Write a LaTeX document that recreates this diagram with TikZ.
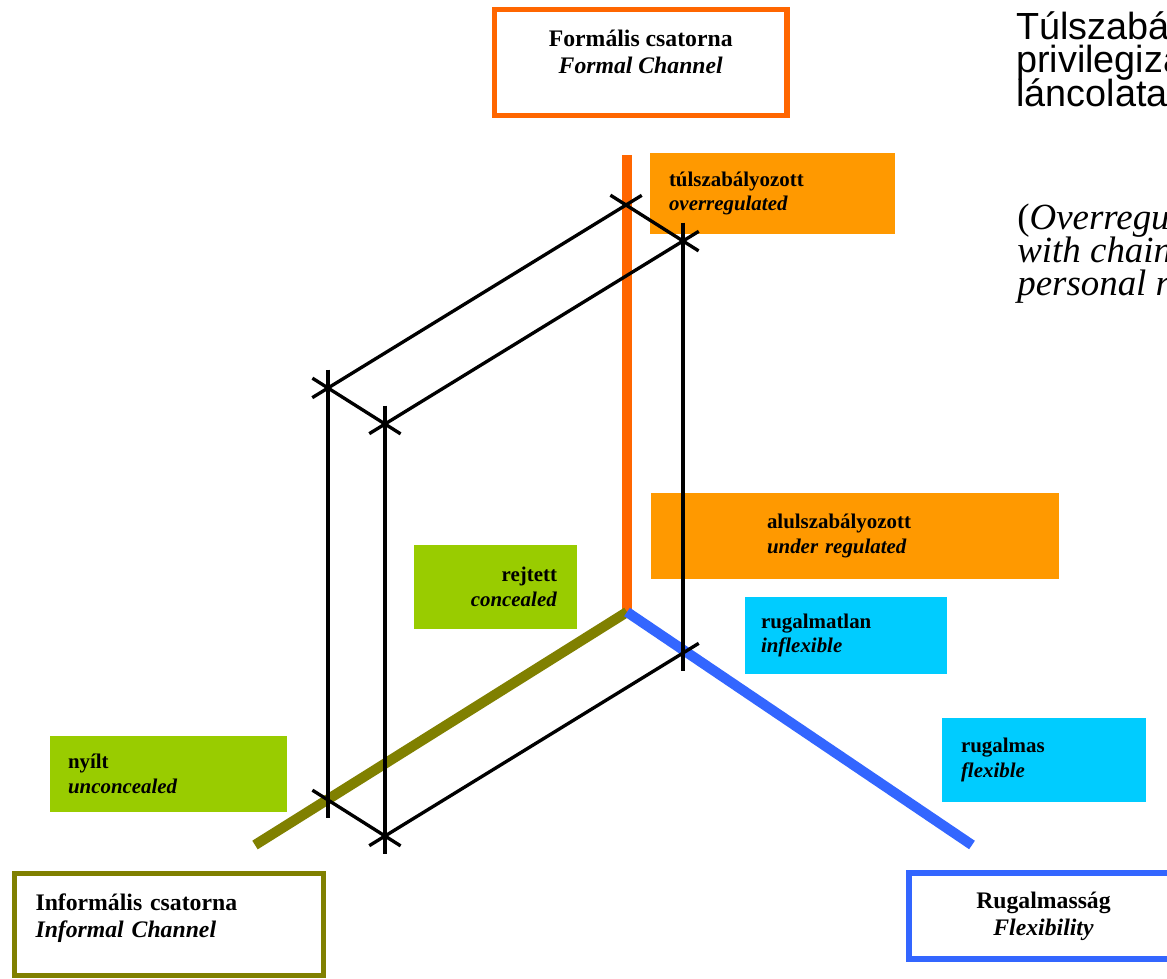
\documentclass[tikz,border=0pt]{standalone}
\usepackage{fontspec}
\setmainfont{Liberation Serif}
\newfontfamily\notefont{Liberation Sans}
\usepackage{tikz}
\usetikzlibrary{positioning,calc}
\usepackage{xcolor}

\definecolor{formalorange}{HTML}{FF6600}
\definecolor{regorange}{HTML}{FF9900}
\definecolor{informalolive}{HTML}{808000}
\definecolor{flexblue}{HTML}{3366FF}
\definecolor{concealgreen}{HTML}{99CC00}
\definecolor{flexcyan}{HTML}{00CCFF}

\begin{document}
\begin{tikzpicture}[x=0.02cm, y=-0.02cm,
    titlebox/.style={draw, line width=2.9pt, fill=white, inner sep=0pt,
        font=\fontsize{13.5}{15.3}\selectfont},
    catbox/.style={inner sep=0pt, font=\fontsize{11.9}{14}\selectfont},
    channel/.style={line width=5.8pt},
    slab/.style={line width=1.9pt, shorten <=-10.5pt, shorten >=-10.5pt}]
    \useasboundingbox (0,0) rectangle (1167,978);
    \clip (0,0) rectangle (1167,978);

    % Axis titles
    \node[titlebox, draw=formalorange, minimum width=5.85cm, minimum height=2.12cm,
        align=center, text depth=12pt] (formal) at (640.75,62.5)
        {\textbf{Formális csatorna}\\ \textbf{\textit{Formal Channel}}};
    \node[titlebox, draw=informalolive, minimum width=6.19cm, minimum height=2.04cm,
        text width=5.34cm, align=left, text depth=25.5pt] (informal) at (169,924.5)
        {\textbf{Informális csatorna}\\ \textbf{\textit{Informal Channel}}};
    \node[titlebox, draw=flexblue, minimum width=5.38cm, minimum height=1.72cm,
        align=center] (flexibility) at (1043.5,916)
        {\textbf{Rugalmasság}\\ \textbf{\textit{Flexibility}}};

    % Categories
    \node[catbox, fill=regorange, minimum width=4.9cm, minimum height=1.62cm,
        text width=4.14cm, align=left] (overreg) at (772.5,193.5)
        {\textbf{túlszabályozott}\\ \textbf{\textit{overregulated}}};
    \node[catbox, fill=regorange, minimum width=8.16cm, minimum height=1.72cm,
        text width=3.52cm, align=left] (underreg) at (855,536)
        {\textbf{alulszabályozott}\\ \textbf{\textit{under regulated}}};
    \node[catbox, fill=concealgreen, minimum width=3.26cm, minimum height=1.68cm,
        text width=2.46cm, align=right] (concealed) at (495.5,587)
        {\textbf{rejtett}\\ \textbf{\textit{concealed}}};
    \node[catbox, fill=concealgreen, minimum width=4.74cm, minimum height=1.52cm,
        text width=4.02cm, align=left] (unconcealed) at (168.5,774)
        {\textbf{nyílt}\\ \textbf{\textit{unconcealed}}};
    \node[catbox, fill=flexcyan, minimum width=4.04cm, minimum height=1.54cm,
        text width=3.4cm, align=left] (inflexible) at (846,635.5)
        {\textbf{rugalmatlan}\\ \textbf{\textit{inflexible}}};
    \node[catbox, fill=flexcyan, minimum width=4.08cm, minimum height=1.68cm,
        text width=3.32cm, align=left] (flexible) at (1044,760)
        {\textbf{rugalmas}\\ \textbf{\textit{flexible}}};

    % Channel axes
    \coordinate (origin) at (627,612);
    \coordinate (formal-end) at (627,155);
    \coordinate (informal-end) at (255,845);
    \coordinate (flex-end) at (972,845);
    \draw[channel, formalorange] (origin) -- (formal-end);
    \draw[channel, informalolive] (origin) -- (informal-end);
    \draw[channel, flexblue] (origin) -- (flex-end);

    % Slab corners
    \coordinate (A) at (626,205);
    \coordinate (B) at (683,241);
    \coordinate (C) at (328,388);
    \coordinate (D) at (385,424);
    \coordinate (E) at (328,800);
    \coordinate (F) at (385,836);
    \coordinate (G) at (683,653);
    \foreach \p/\q in {A/C, B/D, F/G, A/B, C/D, E/F, C/E, D/F, B/G}
        \draw[slab] (\p) -- (\q);

    % Note
    \foreach \txt [count=\i] in {Túlszabályozott, privilegizált kapcsolatok, láncolata}
        \node[anchor=base west, inner sep=0pt, font=\notefont\fontsize{21.5}{24}\selectfont]
            (note-hu-\i) at (1016,5.5+33.5*\i) {\txt};
    \foreach \txt [count=\i] in {{(\textit{Overregulated}}, {\textit{with chains of privileged}},
            {\textit{personal relations)}}}
        \node[anchor=base west, inner sep=0pt, font=\fontsize{21}{24}\selectfont]
            (note-en-\i) at (1017,196+33*\i) {\txt};
\end{tikzpicture}
\end{document}
